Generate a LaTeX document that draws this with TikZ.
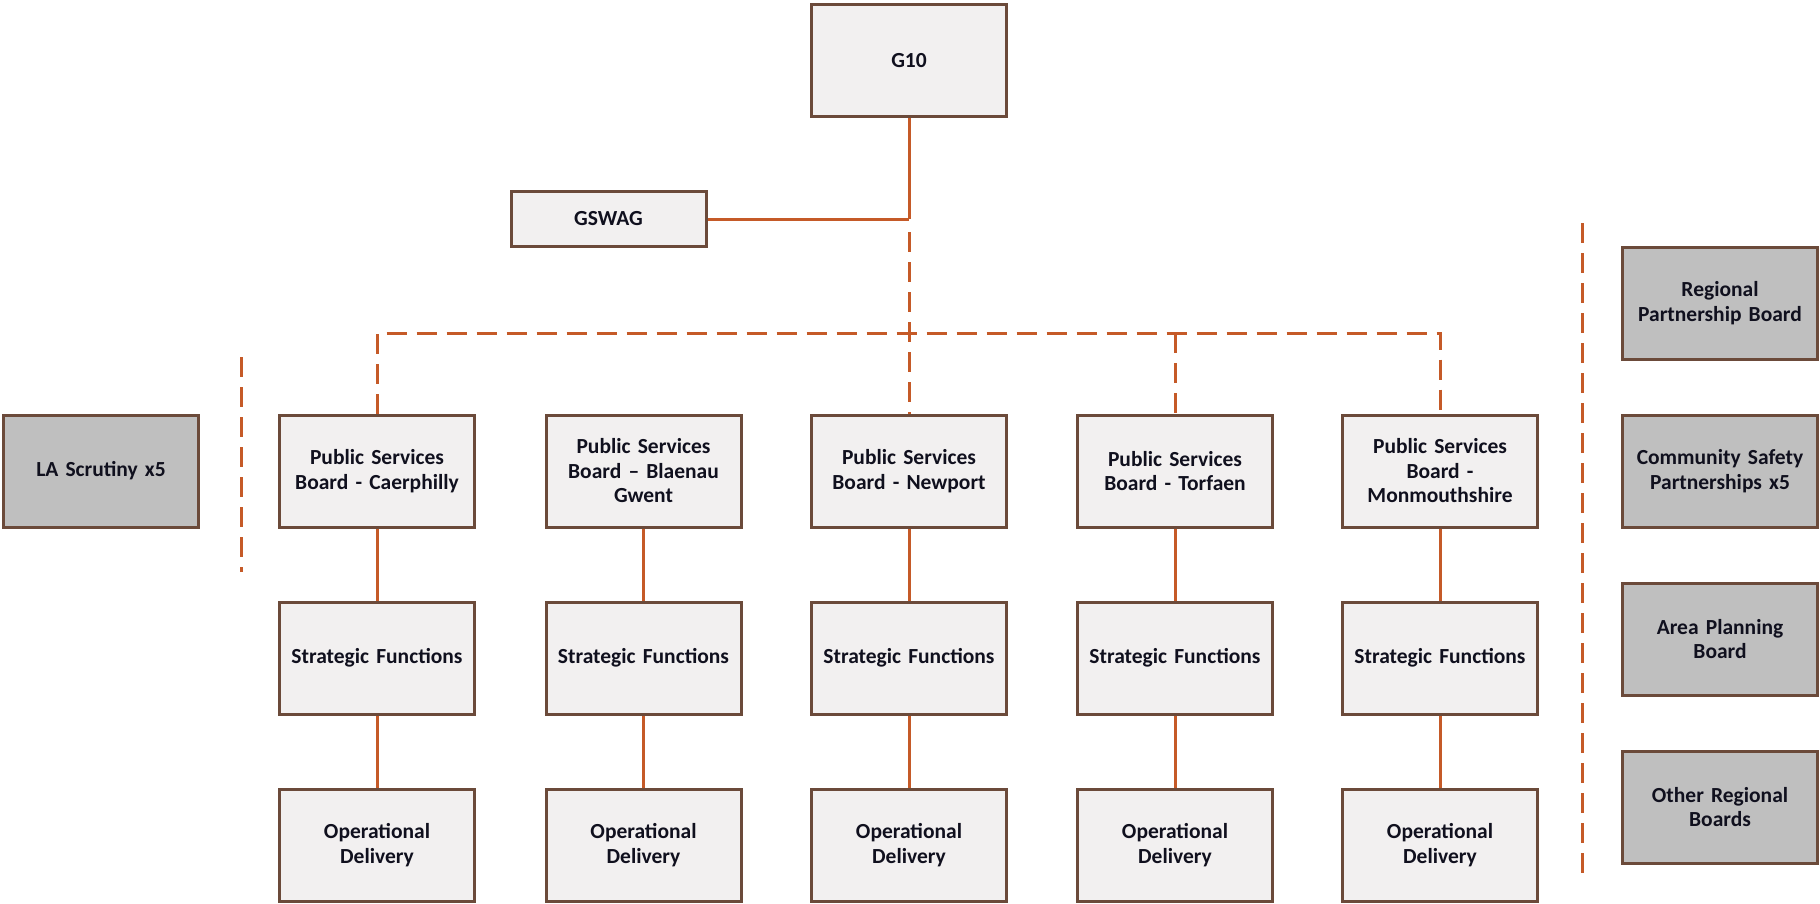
\documentclass[tikz,border=0pt]{standalone}
\usepackage{fontspec}
\setmainfont{Carlito}
\definecolor{boxbrown}{HTML}{6B4A3A}
\definecolor{boxfill}{HTML}{F2F0F0}
\definecolor{boxgray}{HTML}{BFBFBF}
\definecolor{linkorange}{HTML}{C55A28}
\definecolor{txt}{HTML}{10101E}
\begin{document}
\begin{tikzpicture}[x=1pt,y=-1pt,
  box/.style={rectangle,draw=boxbrown,line width=3pt,fill=boxfill,
    minimum width=195pt,minimum height=112pt,text width=188pt,align=center,
    inner sep=0pt,font=\fontsize{21.5}{24.5}\selectfont\bfseries,text=txt},
  graybox/.style={box,fill=boxgray},
  link/.style={draw=linkorange,line width=3pt},
  dlink/.style={link,dash pattern=on 20pt off 10pt}]
\useasboundingbox (0,0) rectangle (1820,903);
% top
\node[box] (g10) at (909,60.5) {G10};
\node[box,minimum height=55pt] (gswag) at (608.5,219) {GSWAG};
% columns
\foreach \i/\x in {1/377,2/643.5,3/909,4/1175,5/1440}{
  \coordinate (c\i) at (\x,333);
}
\node[box] (p1) at (377,471) {Public Services\\Board - Caerphilly};
\node[box] (p2) at (643.5,471) {Public Services\\Board -- Blaenau\\Gwent};
\node[box] (p3) at (909,471) {Public Services\\Board - Newport};
\node[box] (p4) at (1175,471) {Public Services\\Board - Torfaen};
\node[box] (p5) at (1440,471) {Public Services\\Board -\\Monmouthshire};
\foreach \i/\x in {1/377,2/643.5,3/909,4/1175,5/1440}{
  \node[box] (s\i) at (\x,658) {Strategic Functions};
  \node[box] (o\i) at (\x,845) {Operational\\Delivery};
  \draw[link] (p\i) -- (s\i);
  \draw[link] (s\i) -- (o\i);
}
% side boxes
\node[graybox] (la) at (101,471) {LA Scrutiny x5};
\node[graybox] (r1) at (1720,303) {Regional\\Partnership Board};
\node[graybox] (r2) at (1720,471) {Community Safety\\Partnerships x5};
\node[graybox] (r3) at (1720,639) {Area Planning\\Board};
\node[graybox] (r4) at (1720,807) {Other Regional\\Boards};
% connectors
\coordinate (j) at (909,219);
\draw[link] (g10) -- (j);
\draw[link] (gswag) -- (j);
\draw[dlink] (909,232) -- (p3);
\draw[dlink] (p1) |- (c5) -- (p5);
\draw[dlink] (c4) -- (p4);
% separators
\coordinate (la1) at (241,357);
\coordinate (la2) at (241,572);
\draw[dlink] (la1) -- (la2);
\coordinate (rs1) at (1582,223);
\coordinate (rs2) at (1582,873);
\draw[dlink] (rs1) -- (rs2);
\end{tikzpicture}
\end{document}
